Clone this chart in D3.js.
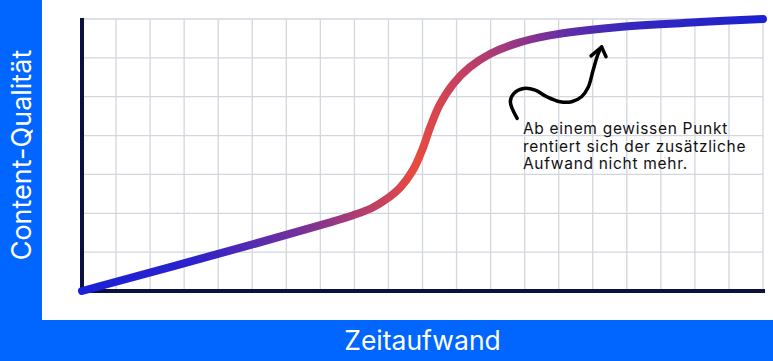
<!DOCTYPE html>
<html>
<head>
<meta charset="utf-8">
<script src="https://cdn.jsdelivr.net/npm/d3@7"></script>
<style>
  html, body { margin: 0; padding: 0; background: #fff; }
  svg { display: block; }
  text { font-family: "Inter", "Noto Sans", sans-serif; }
</style>
</head>
<body>
<svg id="chart"></svg>
<script>
// grid: 20 columns of effort, 7 rows of quality
const xTicks = d3.range(0, 21);
const yTicks = d3.range(0, 8);

// content quality vs time spent (grid units)
const effort = [0, 4.93, 7.34, 7.96, 8.5, 8.9, 9.34, 9.72, 9.99, 10.22, 10.51, 10.9, 11.39, 11.98, 12.78, 13.74, 15.71, 18.15, 20];
const quality = [0, 1.18, 1.78, 1.95, 2.13, 2.34, 2.66, 3.11, 3.63, 4.2, 4.8, 5.33, 5.76, 6.1, 6.38, 6.58, 6.79, 6.92, 7];

// hand drawn arrow pointing at the plateau
const arrowX = [12.78, 12.58, 12.68, 12.97, 13.31, 13.65, 14.04, 14.38, 14.67, 14.87, 15.01, 15.16, 15.26];
const arrowY = [4.44, 4.87, 5.08, 5.21, 5.17, 5.0, 4.87, 4.87, 5.0, 5.25, 5.68, 6.11, 6.28];
const headX = [14.95, 15.26, 15.39];
const headY = [6.05, 6.28, 6.03];

const noteLines = ["Ab einem gewissen Punkt", "rentiert sich der zusätzliche", "Aufwand nicht mehr."];

const xLabel = "Zeitaufwand";
const yLabel = "Content-Qualität";

const width = 773, height = 361;
const band = 42, bottomBand = 41;
const margin = { left: 82, right: 10, top: 19, bottom: 70 };

const svg = d3.select("#chart").attr("width", width).attr("height", height);

// blue frame
svg.append("rect").attr("x", 0).attr("y", 0).attr("width", band).attr("height", height).attr("fill", "#0066ff");
svg.append("rect").attr("x", 0).attr("y", height - bottomBand).attr("width", width).attr("height", bottomBand).attr("fill", "#0066ff");

const x = d3.scaleLinear().domain([0, 20]).range([margin.left, width - margin.right]);
const y = d3.scaleLinear().domain([0, 7]).range([height - margin.bottom, margin.top]);

// grid
const grid = svg.append("g").attr("stroke", "#d2d6dd").attr("stroke-width", 1.3);
grid.selectAll("line.v")
    .data(xTicks.slice(1))
    .enter()
    .append("line")
    .attr("x1", d => x(d)).attr("x2", d => x(d))
    .attr("y1", y(7)).attr("y2", y(0));
grid.selectAll("line.h")
    .data(yTicks.slice(1))
    .enter()
    .append("line")
    .attr("x1", x(0)).attr("x2", x(20))
    .attr("y1", d => y(d)).attr("y2", d => y(d));

// axes
svg.append("line")
    .attr("x1", x(0)).attr("x2", x(0))
    .attr("y1", y(7) - 1).attr("y2", y(0) + 2)
    .attr("stroke", "#0b1040").attr("stroke-width", 4);
svg.append("line")
    .attr("x1", x(0) - 2).attr("x2", x(20) + 2)
    .attr("y1", y(0)).attr("y2", y(0))
    .attr("stroke", "#0b1040").attr("stroke-width", 4);

// gradient for the curve
const defs = svg.append("defs");
const grad = defs.append("linearGradient")
    .attr("id", "curve-grad")
    .attr("gradientUnits", "userSpaceOnUse")
    .attr("x1", x(0)).attr("x2", x(20))
    .attr("y1", 0).attr("y2", 0);
[
    [0, "#1c20d8"],
    [0.16, "#2a22cc"],
    [0.33, "#7a3296"],
    [0.44, "#c8425e"],
    [0.49, "#e84a3e"],
    [0.55, "#c8405e"],
    [0.62, "#a23a7c"],
    [0.70, "#6a2ea4"],
    [0.80, "#3626be"],
    [1, "#1c22d0"]
].forEach(s => grad.append("stop").attr("offset", s[0]).attr("stop-color", s[1]));

const pts = effort.map((e, i) => [e, quality[i]]);
const line = d3.line().x(d => x(d[0])).y(d => y(d[1])).curve(d3.curveCatmullRom.alpha(0.5));

svg.append("path")
    .attr("d", line(pts))
    .attr("fill", "none")
    .attr("stroke", "url(#curve-grad)")
    .attr("stroke-width", 8)
    .attr("stroke-linecap", "round");

// arrow
const scribble = d3.line().x(d => x(d[0])).y(d => y(d[1])).curve(d3.curveCatmullRom);
svg.append("path")
    .attr("d", scribble(arrowX.map((v, i) => [v, arrowY[i]])))
    .attr("fill", "none").attr("stroke", "#000").attr("stroke-width", 3.5)
    .attr("stroke-linecap", "round").attr("stroke-linejoin", "round");
svg.append("path")
    .attr("d", d3.line().x(d => x(d[0])).y(d => y(d[1]))(headX.map((v, i) => [v, headY[i]])))
    .attr("fill", "none").attr("stroke", "#000").attr("stroke-width", 3.5)
    .attr("stroke-linecap", "round").attr("stroke-linejoin", "round");

// note
const note = svg.append("text")
    .attr("x", x(12.95))
    .attr("y", 134)
    .attr("font-size", 15.5)
    .attr("letter-spacing", 0.7)
    .attr("fill", "#111");
note.selectAll("tspan")
    .data(noteLines)
    .enter()
    .append("tspan")
    .attr("x", x(12.95))
    .attr("dy", (d, i) => i === 0 ? 0 : 17.5)
    .text(d => d);

// axis titles
svg.append("text")
    .attr("x", (x(0) + x(20)) / 2)
    .attr("y", 350)
    .attr("text-anchor", "middle")
    .attr("font-size", 26.5)
    .attr("fill", "#fff")
    .text(xLabel);

svg.append("text")
    .attr("transform", `translate(31, ${(y(0) + y(7)) / 2}) rotate(-90)`)
    .attr("text-anchor", "middle")
    .attr("font-size", 27)
    .attr("fill", "#fff")
    .text(yLabel);
</script>
</body>
</html>
